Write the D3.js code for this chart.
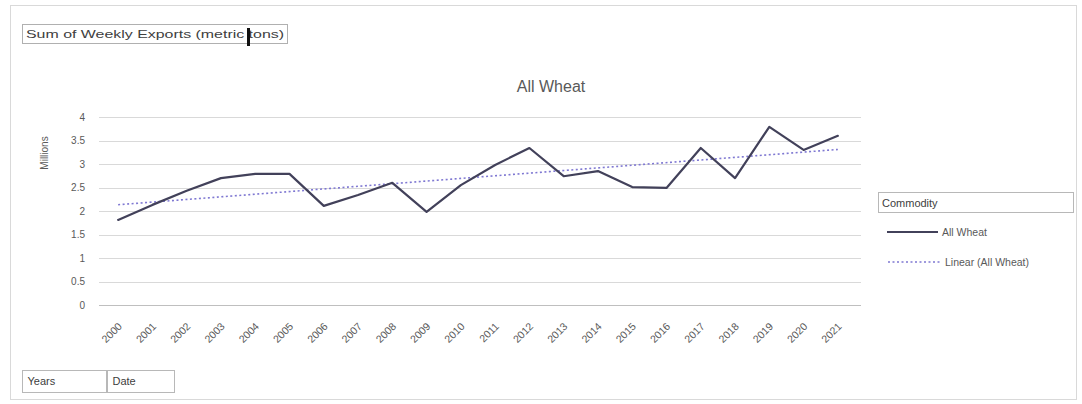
<!DOCTYPE html>
<html><head><meta charset="utf-8">
<script src="https://cdn.jsdelivr.net/npm/d3@7"></script>
<style>
html,body{margin:0;padding:0;background:#fff;}
svg{display:block;font-family:"Liberation Sans","DejaVu Sans",sans-serif;}
</style></head>
<body><svg id="c" width="1082" height="404"></svg>
<script>
const years = ["2000","2001","2002","2003","2004","2005","2006","2007","2008","2009","2010",
  "2011","2012","2013","2014","2015","2016","2017","2018","2019","2020","2021"];
const allWheat = [1.81,2.13,2.43,2.70,2.79,2.79,2.11,2.34,2.60,1.98,2.55,
  2.98,3.34,2.74,2.85,2.51,2.49,3.34,2.70,3.79,3.30,3.60];
const yTicks = [0,0.5,1,1.5,2,2.5,3,3.5,4];
const chartTitle = "All Wheat";
const valueField = "Sum of Weekly Exports (metric tons)";
const yTitle = "Millions";
const legendTitle = "Commodity";
const seriesNames = ["All Wheat","Linear (All Wheat)"];
const axisFields = ["Years","Date"];

const svg = d3.select("#c");
const plot = {l:101, r:855, t:117, b:305};
const txt = "#595959";

// chart area border
svg.append("rect").attr("x",10.5).attr("y",5.5).attr("width",1066).attr("height",394)
  .attr("fill","#fff").attr("stroke","#d9d9d9");

const x = d3.scalePoint().domain(years).range([plot.l, plot.r]).padding(0.5);
const y = d3.scaleLinear().domain([0,4]).range([plot.b, plot.t]);

// gridlines
svg.append("g").selectAll("line").data(yTicks).join("line")
  .attr("x1",plot.l-2).attr("x2",plot.r+6)
  .attr("y1",d=>Math.round(y(d))+0.5).attr("y2",d=>Math.round(y(d))+0.5)
  .attr("stroke",d=>d===0?"#bfbfbf":"#d9d9d9").attr("stroke-width",1);

// y axis labels
const yAxis = d3.axisLeft(y).tickValues(yTicks).tickSize(0).tickPadding(0).tickFormat(d3.format("~g"));
const ga = svg.append("g").attr("transform",`translate(${plot.l-16},0)`).call(yAxis);
ga.select(".domain").remove();
ga.selectAll("text").attr("fill",txt).attr("font-size",10).attr("font-family","Liberation Sans, sans-serif");

// y title
svg.append("text").attr("transform",`translate(48,153) rotate(-90)`).attr("text-anchor","middle")
  .attr("fill",txt).attr("font-size",10).text(yTitle);

// x labels
const xAxis = d3.axisBottom(x).tickSize(0).tickPadding(0);
const gx = svg.append("g").attr("transform",`translate(0,${plot.b})`).call(xAxis);
gx.select(".domain").remove();
gx.selectAll("text").attr("fill",txt).attr("font-size",10.5).attr("font-family","Liberation Sans, sans-serif")
  .attr("text-anchor","end").attr("dy",null).attr("y",0)
  .attr("transform","translate(4,22) rotate(-45)");

// title
svg.append("text").attr("x",551).attr("y",92).attr("text-anchor","middle")
  .attr("fill",txt).attr("font-size",16).text(chartTitle);

// trendline (least squares over index)
const n = allWheat.length;
const mi = d3.mean(d3.range(n)), mv = d3.mean(allWheat);
const slope = d3.sum(d3.range(n), i => (i-mi)*(allWheat[i]-mv)) / d3.sum(d3.range(n), i => (i-mi)*(i-mi));
const icpt = mv - slope*mi;
const trendPts = [0, n-1].map(i => [x(years[i]), y(icpt + slope*i)]);
svg.append("path").attr("d", d3.line()(trendPts)).attr("fill","none")
  .attr("stroke","#7f78d2").attr("stroke-width",1.6).attr("stroke-dasharray","2,2.5");

// main line
svg.append("path").datum(allWheat)
  .attr("d", d3.line().x((d,i)=>x(years[i])).y(d=>y(d)))
  .attr("fill","none").attr("stroke","#42415a").attr("stroke-width",2.2)
  .attr("stroke-linejoin","round").attr("stroke-linecap","round");

// value field button
svg.append("rect").attr("x",22.5).attr("y",24.5).attr("width",265).attr("height",19)
  .attr("fill","#fff").attr("stroke","#b0b0b0");
svg.append("text").attr("x",26).attr("y",38).attr("font-size",11).attr("fill","#404040")
  .attr("textLength",258).attr("lengthAdjust","spacingAndGlyphs").text(valueField);
svg.append("rect").attr("x",247).attr("y",28).attr("width",3).attr("height",18).attr("fill","#111");

// axis field buttons
const fb = [{x:22.5,w:84},{x:107.5,w:67}];
axisFields.forEach((f,i)=>{
  svg.append("rect").attr("x",fb[i].x).attr("y",370.5).attr("width",fb[i].w).attr("height",22)
    .attr("fill","#fff").attr("stroke","#b8b8b8");
  svg.append("text").attr("x",fb[i].x+5).attr("y",385).attr("font-size",11).attr("fill","#404040").text(f);
});

// legend
svg.append("rect").attr("x",878.5).attr("y",192.5).attr("width",195).attr("height",20)
  .attr("fill","#fff").attr("stroke","#b8b8b8");
svg.append("text").attr("x",882).attr("y",207).attr("font-size",11).attr("fill","#404040").text(legendTitle);
const legY = [232, 262];
svg.append("line").attr("x1",887).attr("x2",938).attr("y1",legY[0]).attr("y2",legY[0])
  .attr("stroke","#42415a").attr("stroke-width",2);
svg.append("line").attr("x1",888).attr("x2",940).attr("y1",legY[1]).attr("y2",legY[1])
  .attr("stroke","#7f78d2").attr("stroke-width",1.6).attr("stroke-dasharray","2,2.5");
seriesNames.forEach((s,i)=>{
  svg.append("text").attr("x",i===0?942:945).attr("y",legY[i]+4).attr("font-size",10.5)
    .attr("fill",txt).text(s);
});
</script></body></html>
